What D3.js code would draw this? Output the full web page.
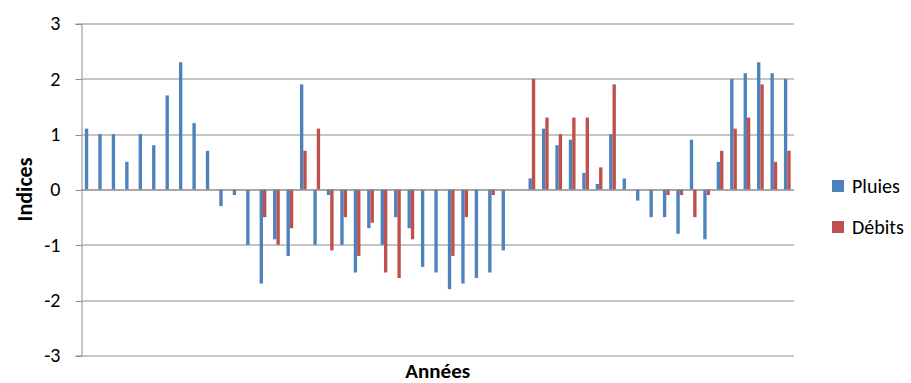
<!DOCTYPE html>
<html>
<head>
<meta charset="utf-8">
<script src="https://cdn.jsdelivr.net/npm/d3@7"></script>
<style>
  body { margin: 0; background: #fff; }
  svg { font-family: Calibri, Carlito, Lato, "Liberation Sans", Arial, sans-serif; }
</style>
</head>
<body>
<div id="chart"></div>
<script>
'use strict';

// Données (53 années, null = pas de barre)
const years = d3.range(1, 54);
const pluies = [
    1.1, 1.0, 1.0, 0.5, 1.0, 0.8, 1.7, 2.3, 1.2, 0.7,
    -0.3, -0.1, -1.0, -1.7, -0.9, -1.2, 1.9, -1.0, -0.1, -1.0,
    -1.5, -0.7, -1.0, -0.5, -0.7, -1.4, -1.5, -1.8, -1.7, -1.6,
    -1.5, -1.1, null, 0.2, 1.1, 0.8, 0.9, 0.3, 0.1, 1.0,
    0.2, -0.2, -0.5, -0.5, -0.8, 0.9, -0.9, 0.5, 2.0, 2.1,
    2.3, 2.1, 2.0
];
const debits = [
    null, null, null, null, null, null, null, null, null, null,
    null, null, null, -0.5, -1.0, -0.7, 0.7, 1.1, -1.1, -0.5,
    -1.2, -0.6, -1.5, -1.6, -0.9, null, null, -1.2, -0.5, null,
    -0.1, null, null, 2.0, 1.3, 1.0, 1.3, 1.3, 0.4, 1.9,
    null, null, null, -0.1, -0.1, -0.5, -0.1, 0.7, 1.1, 1.3,
    1.9, 0.5, 0.7
];
const seriesNames = ['Pluies', 'Débits'];
const seriesColors = ['#4F81BD', '#C0504D'];
const yTicks = [-3, -2, -1, 0, 1, 2, 3];

const width = 911;
const height = 383;
const margin = { top: 23.5, right: 117, bottom: 27.5, left: 81.5 };
const plotW = width - margin.left - margin.right;
const plotH = height - margin.top - margin.bottom;

const svg = d3.select('#chart')
    .append('svg')
    .attr('width', width)
    .attr('height', height);

const g = svg.append('g')
    .attr('transform', `translate(${margin.left}, ${margin.top})`);

// échelles
const x0 = d3.scaleBand()
    .domain(years)
    .range([0, plotW])
    .paddingInner(0.5)
    .paddingOuter(0.25);
const x1 = d3.scaleBand()
    .domain(seriesNames)
    .range([0, x0.bandwidth()]);
const y = d3.scaleLinear()
    .domain([-3, 3])
    .range([plotH, 0]);

// grille horizontale
g.append('g')
    .selectAll('line')
    .data(yTicks)
    .enter()
    .append('line')
    .attr('x1', 0)
    .attr('x2', plotW)
    .attr('y1', d => Math.round(y(d)) + 0.5)
    .attr('y2', d => Math.round(y(d)) + 0.5)
    .attr('stroke', '#8c8c8c')
    .attr('stroke-width', 1);

// axe vertical
const yAxis = g.append('g')
    .call(d3.axisLeft(y).tickValues(yTicks).tickSize(6).tickPadding(15).tickFormat(d => String(d)));
yAxis.select('.domain').attr('stroke', '#8c8c8c');
yAxis.selectAll('.tick line')
    .attr('stroke', '#8c8c8c')
    .attr('transform', d => `translate(0, ${Math.round(y(d)) + 0.5 - y(d)})`);
yAxis.selectAll('.tick text')
    .attr('font-size', '20px')
    .attr('fill', '#000')
    .attr('font-family', 'Calibri, Carlito, Lato, "Liberation Sans", Arial, sans-serif');

// barres
const dataset = years.map((yr, i) => ({ yr, values: [pluies[i], debits[i]] }));
const groups = g.append('g')
    .selectAll('g')
    .data(dataset)
    .enter()
    .append('g')
    .attr('transform', d => `translate(${x0(d.yr)}, 0)`);
groups.selectAll('rect')
    .data(d => d.values.map((v, j) => ({ name: seriesNames[j], v, j })).filter(e => e.v != null))
    .enter()
    .append('rect')
    .attr('x', d => x1(d.name))
    .attr('width', x1.bandwidth())
    .attr('y', d => y(Math.max(0, d.v)))
    .attr('height', d => Math.abs(y(d.v) - y(0)))
    .attr('fill', d => seriesColors[d.j]);

// ligne du zéro par-dessus
g.append('line')
    .attr('x1', 0)
    .attr('x2', plotW)
    .attr('y1', Math.round(y(0)) + 0.5)
    .attr('y2', Math.round(y(0)) + 0.5)
    .attr('stroke', '#8c8c8c');

// titres des axes
svg.append('text')
    .attr('transform', `translate(32, ${margin.top + y(0)}) rotate(-90)`)
    .attr('text-anchor', 'middle')
    .attr('font-size', '22px')
    .attr('font-weight', 'bold')
    .text('Indices');
svg.append('text')
    .attr('x', margin.left + plotW / 2)
    .attr('y', 378)
    .attr('text-anchor', 'middle')
    .attr('font-size', '21px')
    .attr('font-weight', 'bold')
    .text('Années');

// légende
const legend = svg.append('g')
    .selectAll('g')
    .data(seriesNames)
    .enter()
    .append('g')
    .attr('transform', (d, i) => `translate(832, ${180 + i * 41})`);
legend.append('rect')
    .attr('width', 12)
    .attr('height', 12)
    .attr('fill', (d, i) => seriesColors[i]);
legend.append('text')
    .attr('x', 20)
    .attr('y', 13)
    .attr('font-size', '20px')
    .text(d => d);
</script>
</body>
</html>
